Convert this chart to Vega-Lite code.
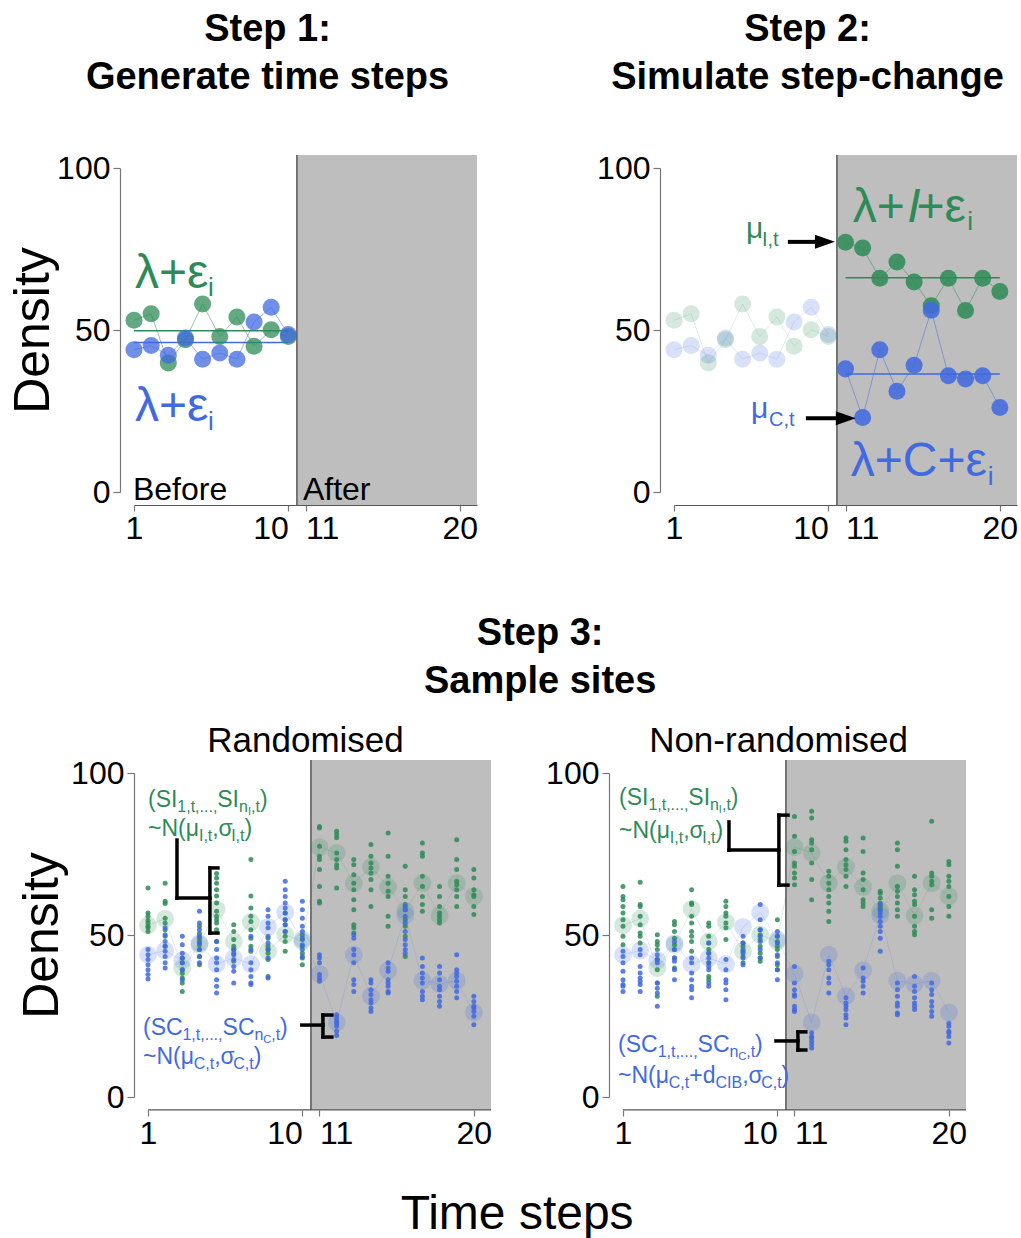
{
"$schema":"https://vega.github.io/schema/vega-lite/v6.json",
"padding":{"left":8,"top":11,"right":0,"bottom":0},
"background":"white",
"config":{"font":"Liberation Sans","view":{"stroke":null},
 "axis":{"grid":false,"labelColor":"black","labelFontSize":32,"titleColor":"black","domainColor":"#777","tickColor":"#777","labelOverlap":false,"labelFlush":false,"zindex":1,"domainWidth":1.2,"tickWidth":1.2},
 "title":{"color":"black","font":"Liberation Sans"}},
"datasets":{
"means":[
{"g":"I","t":1,"v":53},{"g":"I","t":2,"v":55},{"g":"I","t":3,"v":39.8},{"g":"I","t":4,"v":47},{"g":"I","t":5,"v":58},{"g":"I","t":6,"v":48},{"g":"I","t":7,"v":54},{"g":"I","t":8,"v":45},{"g":"I","t":9,"v":50.1},{"g":"I","t":10,"v":48},
{"g":"I","t":11,"v":77.1},{"g":"I","t":12,"v":75.3},{"g":"I","t":13,"v":66},{"g":"I","t":14,"v":71},{"g":"I","t":15,"v":64.8},{"g":"I","t":16,"v":57.5},{"g":"I","t":17,"v":66},{"g":"I","t":18,"v":56},{"g":"I","t":19,"v":66},{"g":"I","t":20,"v":61.9},
{"g":"C","t":1,"v":43.9},{"g":"C","t":2,"v":45.2},{"g":"C","t":3,"v":42.2},{"g":"C","t":4,"v":47.5},{"g":"C","t":5,"v":41},{"g":"C","t":6,"v":42.9},{"g":"C","t":7,"v":41},{"g":"C","t":8,"v":52.5},{"g":"C","t":9,"v":57},{"g":"C","t":10,"v":48.6},
{"g":"C","t":11,"v":38},{"g":"C","t":12,"v":23},{"g":"C","t":13,"v":43.9},{"g":"C","t":14,"v":31.1},{"g":"C","t":15,"v":39.1},{"g":"C","t":16,"v":56.1},{"g":"C","t":17,"v":35.9},{"g":"C","t":18,"v":34.9},{"g":"C","t":19,"v":35.9},{"g":"C","t":20,"v":26.1}],
"r":[
{"g":"I","t":1,"v":64.5},{"g":"I","t":1,"v":56.8},{"g":"I","t":1,"v":55.8},{"g":"I","t":1,"v":54.5},{"g":"I","t":1,"v":53.7},{"g":"I","t":1,"v":52.7},{"g":"I","t":1,"v":52.2},{"g":"I","t":1,"v":51.1},
{"g":"I","t":2,"v":66},{"g":"I","t":2,"v":60.4},{"g":"I","t":2,"v":59.7},{"g":"I","t":2,"v":55.2},{"g":"I","t":2,"v":53.7},{"g":"I","t":2,"v":51.6},{"g":"I","t":2,"v":49.6},{"g":"I","t":2,"v":46.5},
{"g":"I","t":3,"v":42.9},{"g":"I","t":3,"v":41.4},{"g":"I","t":3,"v":39.3},{"g":"I","t":3,"v":38.2},{"g":"I","t":3,"v":36.7},{"g":"I","t":3,"v":35.2},{"g":"I","t":3,"v":32.6},
{"g":"I","t":4,"v":52.7},{"g":"I","t":4,"v":50.5},{"g":"I","t":4,"v":49},{"g":"I","t":4,"v":48},{"g":"I","t":4,"v":47},{"g":"I","t":4,"v":45.5},{"g":"I","t":4,"v":43.4},{"g":"I","t":4,"v":40.8},
{"g":"I","t":5,"v":69},{"g":"I","t":5,"v":67.6},{"g":"I","t":5,"v":66},{"g":"I","t":5,"v":64},{"g":"I","t":5,"v":62},{"g":"I","t":5,"v":59.9},{"g":"I","t":5,"v":57.3},{"g":"I","t":5,"v":55.8},{"g":"I","t":5,"v":54.7},{"g":"I","t":5,"v":53.7},{"g":"I","t":5,"v":51.6},{"g":"I","t":5,"v":48},
{"g":"I","t":6,"v":53.2},{"g":"I","t":6,"v":51.1},{"g":"I","t":6,"v":48.6},{"g":"I","t":6,"v":46.5},{"g":"I","t":6,"v":45.5},{"g":"I","t":6,"v":44.4},{"g":"I","t":6,"v":41.9},
{"g":"I","t":7,"v":73.3},{"g":"I","t":7,"v":62},{"g":"I","t":7,"v":58.3},{"g":"I","t":7,"v":55.8},{"g":"I","t":7,"v":54.2},{"g":"I","t":7,"v":51.6},{"g":"I","t":7,"v":49},{"g":"I","t":7,"v":46.5},{"g":"I","t":7,"v":45},
{"g":"I","t":8,"v":49},{"g":"I","t":8,"v":46.5},{"g":"I","t":8,"v":45.5},{"g":"I","t":8,"v":44.4},{"g":"I","t":8,"v":42.4},{"g":"I","t":8,"v":37.2},
{"g":"I","t":9,"v":56.8},{"g":"I","t":9,"v":54.7},{"g":"I","t":9,"v":53.2},{"g":"I","t":9,"v":51.1},{"g":"I","t":9,"v":49.6},{"g":"I","t":9,"v":48},{"g":"I","t":9,"v":45},
{"g":"I","t":10,"v":50},{"g":"I","t":10,"v":48.6},{"g":"I","t":10,"v":46.5},{"g":"I","t":10,"v":44.4},{"g":"I","t":10,"v":42.9},{"g":"I","t":10,"v":40.8},
{"g":"I","t":11,"v":83.5},{"g":"I","t":11,"v":83},{"g":"I","t":11,"v":77.4},{"g":"I","t":11,"v":74.3},{"g":"I","t":11,"v":73.3},{"g":"I","t":11,"v":70.2},{"g":"I","t":11,"v":65},{"g":"I","t":11,"v":60.4},{"g":"I","t":11,"v":59.9},
{"g":"I","t":12,"v":82},{"g":"I","t":12,"v":81},{"g":"I","t":12,"v":80},{"g":"I","t":12,"v":75.3},{"g":"I","t":12,"v":73.3},{"g":"I","t":12,"v":71.7},{"g":"I","t":12,"v":70.7},{"g":"I","t":12,"v":64.5},
{"g":"I","t":13,"v":73.3},{"g":"I","t":13,"v":71.7},{"g":"I","t":13,"v":68.6},{"g":"I","t":13,"v":66},{"g":"I","t":13,"v":64},{"g":"I","t":13,"v":60.9},{"g":"I","t":13,"v":57.8},{"g":"I","t":13,"v":53.2},{"g":"I","t":13,"v":52.2},{"g":"I","t":13,"v":50.6},
{"g":"I","t":14,"v":77.9},{"g":"I","t":14,"v":74.3},{"g":"I","t":14,"v":72.2},{"g":"I","t":14,"v":70.7},{"g":"I","t":14,"v":69.1},{"g":"I","t":14,"v":67.1},{"g":"I","t":14,"v":64},{"g":"I","t":14,"v":58.8},
{"g":"I","t":15,"v":81.5},{"g":"I","t":15,"v":74.3},{"g":"I","t":15,"v":68.1},{"g":"I","t":15,"v":66},{"g":"I","t":15,"v":63.5},{"g":"I","t":15,"v":61.9},{"g":"I","t":15,"v":55.8},{"g":"I","t":15,"v":52.7},
{"g":"I","t":16,"v":71.2},{"g":"I","t":16,"v":64},{"g":"I","t":16,"v":61.9},{"g":"I","t":16,"v":59.4},{"g":"I","t":16,"v":57.8},{"g":"I","t":16,"v":54.7},{"g":"I","t":16,"v":52.7},{"g":"I","t":16,"v":49.6},{"g":"I","t":16,"v":43.4},
{"g":"I","t":17,"v":78.4},{"g":"I","t":17,"v":75.3},{"g":"I","t":17,"v":74.3},{"g":"I","t":17,"v":68.1},{"g":"I","t":17,"v":65},{"g":"I","t":17,"v":61.9},{"g":"I","t":17,"v":59.4},{"g":"I","t":17,"v":57.3},
{"g":"I","t":18,"v":65},{"g":"I","t":18,"v":61.9},{"g":"I","t":18,"v":58.8},{"g":"I","t":18,"v":56.8},{"g":"I","t":18,"v":55.8},{"g":"I","t":18,"v":54.7},{"g":"I","t":18,"v":53.7},
{"g":"I","t":19,"v":79.4},{"g":"I","t":19,"v":73.3},{"g":"I","t":19,"v":70.2},{"g":"I","t":19,"v":66.6},{"g":"I","t":19,"v":65.5},{"g":"I","t":19,"v":64},{"g":"I","t":19,"v":61.9},{"g":"I","t":19,"v":58.8},
{"g":"I","t":20,"v":70.2},{"g":"I","t":20,"v":67.6},{"g":"I","t":20,"v":64},{"g":"I","t":20,"v":62.4},{"g":"I","t":20,"v":61.9},{"g":"I","t":20,"v":58.8},{"g":"I","t":20,"v":56.3},
{"g":"C","t":1,"v":45.5},{"g":"C","t":1,"v":43.9},{"g":"C","t":1,"v":42.4},{"g":"C","t":1,"v":40.8},{"g":"C","t":1,"v":39.3},{"g":"C","t":1,"v":37.8},{"g":"C","t":1,"v":36.4},
{"g":"C","t":2,"v":52.2},{"g":"C","t":2,"v":50.1},{"g":"C","t":2,"v":48},{"g":"C","t":2,"v":46.5},{"g":"C","t":2,"v":45},{"g":"C","t":2,"v":43.4},{"g":"C","t":2,"v":41.4},{"g":"C","t":2,"v":39.8},
{"g":"C","t":3,"v":49.6},{"g":"C","t":3,"v":47},{"g":"C","t":3,"v":44.4},{"g":"C","t":3,"v":42.9},{"g":"C","t":3,"v":41.4},{"g":"C","t":3,"v":39.3},{"g":"C","t":3,"v":36.2},
{"g":"C","t":4,"v":57.3},{"g":"C","t":4,"v":53.7},{"g":"C","t":4,"v":51.6},{"g":"C","t":4,"v":49.6},{"g":"C","t":4,"v":47.5},{"g":"C","t":4,"v":45.5},{"g":"C","t":4,"v":43.4},{"g":"C","t":4,"v":41.4},
{"g":"C","t":5,"v":48},{"g":"C","t":5,"v":45.5},{"g":"C","t":5,"v":42.9},{"g":"C","t":5,"v":41.4},{"g":"C","t":5,"v":39.3},{"g":"C","t":5,"v":36.2},{"g":"C","t":5,"v":34.2},{"g":"C","t":5,"v":32.1},
{"g":"C","t":6,"v":45.5},{"g":"C","t":6,"v":43.9},{"g":"C","t":6,"v":42.4},{"g":"C","t":6,"v":40.3},{"g":"C","t":6,"v":38.8},{"g":"C","t":6,"v":35.2},
{"g":"C","t":7,"v":49.6},{"g":"C","t":7,"v":45.5},{"g":"C","t":7,"v":41.4},{"g":"C","t":7,"v":39.3},{"g":"C","t":7,"v":37.2},{"g":"C","t":7,"v":35.2},{"g":"C","t":7,"v":34.7},
{"g":"C","t":8,"v":57.8},{"g":"C","t":8,"v":55.8},{"g":"C","t":8,"v":53.7},{"g":"C","t":8,"v":52.2},{"g":"C","t":8,"v":49.6},{"g":"C","t":8,"v":47.5},{"g":"C","t":8,"v":45.5},{"g":"C","t":8,"v":42.9},{"g":"C","t":8,"v":36.7},
{"g":"C","t":9,"v":66.6},{"g":"C","t":9,"v":64},{"g":"C","t":9,"v":61.9},{"g":"C","t":9,"v":59.9},{"g":"C","t":9,"v":58.3},{"g":"C","t":9,"v":56.8},{"g":"C","t":9,"v":54.7},{"g":"C","t":9,"v":53.2},{"g":"C","t":9,"v":51.1},
{"g":"C","t":10,"v":60.4},{"g":"C","t":10,"v":57.8},{"g":"C","t":10,"v":55.2},{"g":"C","t":10,"v":52.7},{"g":"C","t":10,"v":51.1},{"g":"C","t":10,"v":49},{"g":"C","t":10,"v":47},{"g":"C","t":10,"v":45.5},{"g":"C","t":10,"v":43.4},
{"g":"C","t":11,"v":43.9},{"g":"C","t":11,"v":42.9},{"g":"C","t":11,"v":41.4},{"g":"C","t":11,"v":37.8},{"g":"C","t":11,"v":36.7},{"g":"C","t":11,"v":35.7},
{"g":"C","t":12,"v":25.4},{"g":"C","t":12,"v":24.4},{"g":"C","t":12,"v":23.4},{"g":"C","t":12,"v":22.8},{"g":"C","t":12,"v":21.8},{"g":"C","t":12,"v":20.3},{"g":"C","t":12,"v":19},
{"g":"C","t":13,"v":50.1},{"g":"C","t":13,"v":49},{"g":"C","t":13,"v":45.5},{"g":"C","t":13,"v":43.9},{"g":"C","t":13,"v":41.4},{"g":"C","t":13,"v":36.2},{"g":"C","t":13,"v":34.7},{"g":"C","t":13,"v":32.6},
{"g":"C","t":14,"v":36.2},{"g":"C","t":14,"v":35.2},{"g":"C","t":14,"v":33.1},{"g":"C","t":14,"v":31.6},{"g":"C","t":14,"v":30},{"g":"C","t":14,"v":29},{"g":"C","t":14,"v":27.5},{"g":"C","t":14,"v":26.4},
{"g":"C","t":15,"v":41.4},{"g":"C","t":15,"v":39.8},{"g":"C","t":15,"v":38.8},{"g":"C","t":15,"v":36.2},{"g":"C","t":15,"v":35.2},{"g":"C","t":15,"v":34.2},{"g":"C","t":15,"v":32.6},{"g":"C","t":15,"v":32.1},
{"g":"C","t":16,"v":58.8},{"g":"C","t":16,"v":57.8},{"g":"C","t":16,"v":55.8},{"g":"C","t":16,"v":53.7},{"g":"C","t":16,"v":51.1},{"g":"C","t":16,"v":48.6},{"g":"C","t":16,"v":47},{"g":"C","t":16,"v":45.5},{"g":"C","t":16,"v":44.4},
{"g":"C","t":17,"v":42.9},{"g":"C","t":17,"v":40.3},{"g":"C","t":17,"v":38.3},{"g":"C","t":17,"v":36.7},{"g":"C","t":17,"v":35.2},{"g":"C","t":17,"v":32.6},{"g":"C","t":17,"v":31.1},{"g":"C","t":17,"v":30},
{"g":"C","t":18,"v":40.3},{"g":"C","t":18,"v":38.3},{"g":"C","t":18,"v":36.2},{"g":"C","t":18,"v":34.2},{"g":"C","t":18,"v":33.1},{"g":"C","t":18,"v":31.1},{"g":"C","t":18,"v":29.5},{"g":"C","t":18,"v":28},
{"g":"C","t":19,"v":43.9},{"g":"C","t":19,"v":39.3},{"g":"C","t":19,"v":38.3},{"g":"C","t":19,"v":37.2},{"g":"C","t":19,"v":35.7},{"g":"C","t":19,"v":34.2},{"g":"C","t":19,"v":32.6},{"g":"C","t":19,"v":30.6},
{"g":"C","t":20,"v":31.1},{"g":"C","t":20,"v":29.5},{"g":"C","t":20,"v":28},{"g":"C","t":20,"v":27.5},{"g":"C","t":20,"v":26.4},{"g":"C","t":20,"v":24.9},{"g":"C","t":20,"v":22.3}],
"n":[
{"g":"I","t":1,"v":65},{"g":"I","t":1,"v":61.9},{"g":"I","t":1,"v":60.9},{"g":"I","t":1,"v":58.8},{"g":"I","t":1,"v":56.8},{"g":"I","t":1,"v":54.7},{"g":"I","t":1,"v":52.7},{"g":"I","t":1,"v":49.6},{"g":"I","t":1,"v":47},
{"g":"I","t":2,"v":66.3},{"g":"I","t":2,"v":59.4},{"g":"I","t":2,"v":58.8},{"g":"I","t":2,"v":55.8},{"g":"I","t":2,"v":53.2},{"g":"I","t":2,"v":50.6},{"g":"I","t":2,"v":49.6},{"g":"I","t":2,"v":47.5},
{"g":"I","t":3,"v":50.1},{"g":"I","t":3,"v":48},{"g":"I","t":3,"v":47},{"g":"I","t":3,"v":45.5},{"g":"I","t":3,"v":42.4},{"g":"I","t":3,"v":39.3},{"g":"I","t":3,"v":35.2},{"g":"I","t":3,"v":31.1},
{"g":"I","t":4,"v":54.2},{"g":"I","t":4,"v":53.2},{"g":"I","t":4,"v":51.1},{"g":"I","t":4,"v":49},{"g":"I","t":4,"v":47},{"g":"I","t":4,"v":45.5},{"g":"I","t":4,"v":42.9},{"g":"I","t":4,"v":39.8},
{"g":"I","t":5,"v":64},{"g":"I","t":5,"v":59.9},{"g":"I","t":5,"v":59.4},{"g":"I","t":5,"v":55.8},{"g":"I","t":5,"v":53.7},{"g":"I","t":5,"v":51.1},{"g":"I","t":5,"v":49.6},{"g":"I","t":5,"v":48},{"g":"I","t":5,"v":45},
{"g":"I","t":6,"v":53.7},{"g":"I","t":6,"v":52.7},{"g":"I","t":6,"v":49.6},{"g":"I","t":6,"v":47.5},{"g":"I","t":6,"v":45.5},{"g":"I","t":6,"v":44.4},{"g":"I","t":6,"v":41.4},{"g":"I","t":6,"v":37.2},{"g":"I","t":6,"v":36.2},
{"g":"I","t":7,"v":60.4},{"g":"I","t":7,"v":58.8},{"g":"I","t":7,"v":56.8},{"g":"I","t":7,"v":55.8},{"g":"I","t":7,"v":53.7},{"g":"I","t":7,"v":52.2},{"g":"I","t":7,"v":48.6},
{"g":"I","t":8,"v":47.5},{"g":"I","t":8,"v":46.5},{"g":"I","t":8,"v":45},{"g":"I","t":8,"v":43.4},{"g":"I","t":8,"v":41.4},
{"g":"I","t":9,"v":51.6},{"g":"I","t":9,"v":50.1},{"g":"I","t":9,"v":48.6},{"g":"I","t":9,"v":46.5},{"g":"I","t":9,"v":44.4},{"g":"I","t":9,"v":42.9},{"g":"I","t":9,"v":41.9},
{"g":"I","t":10,"v":54.7},{"g":"I","t":10,"v":49.6},{"g":"I","t":10,"v":48},{"g":"I","t":10,"v":46.5},{"g":"I","t":10,"v":45.5},{"g":"I","t":10,"v":43.4},{"g":"I","t":10,"v":40.8},{"g":"I","t":10,"v":39.3},
{"g":"I","t":11,"v":86.6},{"g":"I","t":11,"v":80.5},{"g":"I","t":11,"v":75.8},{"g":"I","t":11,"v":72.2},{"g":"I","t":11,"v":71.2},{"g":"I","t":11,"v":69.1},{"g":"I","t":11,"v":67.6},{"g":"I","t":11,"v":65.5},
{"g":"I","t":12,"v":88.2},{"g":"I","t":12,"v":86.1},{"g":"I","t":12,"v":79.4},{"g":"I","t":12,"v":78.4},{"g":"I","t":12,"v":76.3},{"g":"I","t":12,"v":72.2},{"g":"I","t":12,"v":67.1},{"g":"I","t":12,"v":60.9},
{"g":"I","t":13,"v":69.7},{"g":"I","t":13,"v":68.1},{"g":"I","t":13,"v":66},{"g":"I","t":13,"v":64},{"g":"I","t":13,"v":61.9},{"g":"I","t":13,"v":59.9},{"g":"I","t":13,"v":57.3},{"g":"I","t":13,"v":54.2},
{"g":"I","t":14,"v":79.9},{"g":"I","t":14,"v":78.9},{"g":"I","t":14,"v":76.3},{"g":"I","t":14,"v":73.3},{"g":"I","t":14,"v":71.7},{"g":"I","t":14,"v":70.2},{"g":"I","t":14,"v":68.1},{"g":"I","t":14,"v":65},
{"g":"I","t":15,"v":79.9},{"g":"I","t":15,"v":75.8},{"g":"I","t":15,"v":69.1},{"g":"I","t":15,"v":67.1},{"g":"I","t":15,"v":64},{"g":"I","t":15,"v":60.9},{"g":"I","t":15,"v":59.9},{"g":"I","t":15,"v":58.8},
{"g":"I","t":16,"v":63.5},{"g":"I","t":16,"v":62.9},{"g":"I","t":16,"v":61.4},{"g":"I","t":16,"v":59.9},{"g":"I","t":16,"v":58.8},{"g":"I","t":16,"v":57.8},
{"g":"I","t":17,"v":78.4},{"g":"I","t":17,"v":76.3},{"g":"I","t":17,"v":71.2},{"g":"I","t":17,"v":65},{"g":"I","t":17,"v":63.5},{"g":"I","t":17,"v":61.9},{"g":"I","t":17,"v":59.9},{"g":"I","t":17,"v":57.8},{"g":"I","t":17,"v":55.8},
{"g":"I","t":18,"v":68.1},{"g":"I","t":18,"v":64},{"g":"I","t":18,"v":62.4},{"g":"I","t":18,"v":60.4},{"g":"I","t":18,"v":59.4},{"g":"I","t":18,"v":55.8},{"g":"I","t":18,"v":52.7},{"g":"I","t":18,"v":51.1},{"g":"I","t":18,"v":50.1},
{"g":"I","t":19,"v":85.1},{"g":"I","t":19,"v":69.1},{"g":"I","t":19,"v":68.1},{"g":"I","t":19,"v":66.6},{"g":"I","t":19,"v":65.5},{"g":"I","t":19,"v":57.8},{"g":"I","t":19,"v":55.2},
{"g":"I","t":20,"v":72.7},{"g":"I","t":20,"v":71.7},{"g":"I","t":20,"v":68.1},{"g":"I","t":20,"v":66.6},{"g":"I","t":20,"v":65},{"g":"I","t":20,"v":61.9},{"g":"I","t":20,"v":58.8},{"g":"I","t":20,"v":55.8},
{"g":"C","t":1,"v":45},{"g":"C","t":1,"v":43.4},{"g":"C","t":1,"v":41.4},{"g":"C","t":1,"v":38.8},{"g":"C","t":1,"v":36.2},{"g":"C","t":1,"v":34.7},{"g":"C","t":1,"v":34.2},{"g":"C","t":1,"v":32.6},
{"g":"C","t":2,"v":45.5},{"g":"C","t":2,"v":43.9},{"g":"C","t":2,"v":40.3},{"g":"C","t":2,"v":38.3},{"g":"C","t":2,"v":36.7},{"g":"C","t":2,"v":35.7},{"g":"C","t":2,"v":34.7},{"g":"C","t":2,"v":32.6},
{"g":"C","t":3,"v":43.9},{"g":"C","t":3,"v":42.4},{"g":"C","t":3,"v":41.4},{"g":"C","t":3,"v":35.2},{"g":"C","t":3,"v":33.6},{"g":"C","t":3,"v":32.1},{"g":"C","t":3,"v":28},
{"g":"C","t":4,"v":48},{"g":"C","t":4,"v":45.5},{"g":"C","t":4,"v":42.9},{"g":"C","t":4,"v":41.9},{"g":"C","t":4,"v":39.3},{"g":"C","t":4,"v":36.2},
{"g":"C","t":5,"v":42.9},{"g":"C","t":5,"v":41.4},{"g":"C","t":5,"v":38.3},{"g":"C","t":5,"v":36.2},{"g":"C","t":5,"v":34.2},{"g":"C","t":5,"v":33.1},{"g":"C","t":5,"v":30.6},
{"g":"C","t":6,"v":47.5},{"g":"C","t":6,"v":44.4},{"g":"C","t":6,"v":42.9},{"g":"C","t":6,"v":41.4},{"g":"C","t":6,"v":40.3},{"g":"C","t":6,"v":39.3},{"g":"C","t":6,"v":35.2},{"g":"C","t":6,"v":34.2},
{"g":"C","t":7,"v":42.4},{"g":"C","t":7,"v":39.3},{"g":"C","t":7,"v":36.2},{"g":"C","t":7,"v":35.2},{"g":"C","t":7,"v":33.1},{"g":"C","t":7,"v":30},
{"g":"C","t":8,"v":49.6},{"g":"C","t":8,"v":47.5},{"g":"C","t":8,"v":45.5},{"g":"C","t":8,"v":44.4},{"g":"C","t":8,"v":42.9},{"g":"C","t":8,"v":40.8},
{"g":"C","t":9,"v":59.4},{"g":"C","t":9,"v":54.7},{"g":"C","t":9,"v":51.6},{"g":"C","t":9,"v":49.6},{"g":"C","t":9,"v":48},{"g":"C","t":9,"v":45.5},{"g":"C","t":9,"v":42.9},
{"g":"C","t":10,"v":51.1},{"g":"C","t":10,"v":49.6},{"g":"C","t":10,"v":47.5},{"g":"C","t":10,"v":43.9},{"g":"C","t":10,"v":41.4},{"g":"C","t":10,"v":39.3},{"g":"C","t":10,"v":36.2},
{"g":"C","t":11,"v":40.3},{"g":"C","t":11,"v":35.2},{"g":"C","t":11,"v":33.1},{"g":"C","t":11,"v":31.6},{"g":"C","t":11,"v":31.1},{"g":"C","t":11,"v":28},{"g":"C","t":11,"v":27},{"g":"C","t":11,"v":26.4},
{"g":"C","t":12,"v":19.8},{"g":"C","t":12,"v":18.7},{"g":"C","t":12,"v":18.2},{"g":"C","t":12,"v":17.2},{"g":"C","t":12,"v":16.2},{"g":"C","t":12,"v":15.1},
{"g":"C","t":13,"v":41.9},{"g":"C","t":13,"v":40.8},{"g":"C","t":13,"v":39.3},{"g":"C","t":13,"v":36.7},{"g":"C","t":13,"v":35.2},{"g":"C","t":13,"v":32.1},
{"g":"C","t":14,"v":30.6},{"g":"C","t":14,"v":29},{"g":"C","t":14,"v":28},{"g":"C","t":14,"v":27},{"g":"C","t":14,"v":25.4},{"g":"C","t":14,"v":24.4},{"g":"C","t":14,"v":22.3},
{"g":"C","t":15,"v":39.8},{"g":"C","t":15,"v":36.7},{"g":"C","t":15,"v":35.7},{"g":"C","t":15,"v":34.2},{"g":"C","t":15,"v":32.1},
{"g":"C","t":16,"v":59.4},{"g":"C","t":16,"v":57.8},{"g":"C","t":16,"v":56.8},{"g":"C","t":16,"v":55.8},{"g":"C","t":16,"v":54.2},{"g":"C","t":16,"v":52.7},{"g":"C","t":16,"v":51.1},{"g":"C","t":16,"v":49},{"g":"C","t":16,"v":45},
{"g":"C","t":17,"v":35.2},{"g":"C","t":17,"v":33.1},{"g":"C","t":17,"v":31.1},{"g":"C","t":17,"v":29},{"g":"C","t":17,"v":28},{"g":"C","t":17,"v":25.9},{"g":"C","t":17,"v":25.4},
{"g":"C","t":18,"v":37.2},{"g":"C","t":18,"v":34.2},{"g":"C","t":18,"v":32.6},{"g":"C","t":18,"v":30.6},{"g":"C","t":18,"v":29},{"g":"C","t":18,"v":28},{"g":"C","t":18,"v":27},
{"g":"C","t":19,"v":35.2},{"g":"C","t":19,"v":33.1},{"g":"C","t":19,"v":31.6},{"g":"C","t":19,"v":29.5},{"g":"C","t":19,"v":28},{"g":"C","t":19,"v":26.4},{"g":"C","t":19,"v":24.9},
{"g":"C","t":20,"v":22.8},{"g":"C","t":20,"v":21.8},{"g":"C","t":20,"v":20.3},{"g":"C","t":20,"v":19.8},{"g":"C","t":20,"v":18.7},{"g":"C","t":20,"v":16.7}]
},
"spacing":71,
"vconcat":[
{"hconcat":[
 {"width":343,"height":324,
  "title":{"text":["Step 1:","Generate time steps"],"fontSize":38,"fontWeight":"bold","lineHeight":48,"offset":55,"frame":"group","anchor":"middle","dx":-38},
  "layer":[
   {"data":{"values":[{}]},"mark":{"type":"rect","color":"#bebebe"},
    "encoding":{
     "x":{"datum":10.5,"type":"quantitative","scale":{"domain":[1,21],"nice":false,"zero":false},"axis":{"title":null,"values":[1,10,11,20],"offset":13,"tickSize":6,"labelPadding":2,"domainColor":"#555","labelAlign":{"condition":[{"test":"datum.value == 10","value":"right"},{"test":"datum.value == 11","value":"left"}],"value":"center"}}},
     "x2":{"datum":21},
     "y":{"datum":-4,"type":"quantitative","scale":{"domain":[0,100],"nice":false,"zero":false},"axis":{"title":"Density","titleFontSize":50,"titleFontWeight":"normal","titlePadding":-2,"values":[0,50,100],"offset":14,"tickSize":7,"labelPadding":3}},
     "y2":{"datum":104}}},
   {"data":{"values":[{}]},"mark":{"type":"rule","color":"#555","strokeWidth":1.5},
    "encoding":{"x":{"datum":10.5,"type":"quantitative"},"y":{"datum":-4,"type":"quantitative"},"y2":{"datum":104}}},
   {"data":{"name":"means"},"transform":[{"filter":"datum.t <= 10"}],"mark":{"type":"line","strokeWidth":1,"opacity":0.5},
    "encoding":{"x":{"field":"t","type":"quantitative"},"y":{"field":"v","type":"quantitative"},"color":{"field":"g","type":"nominal","scale":{"domain":["I","C"],"range":["#2E8B57","#4169E1"]},"legend":null}}},
   {"data":{"name":"means"},"transform":[{"filter":"datum.t <= 10"},{"aggregate":[{"op":"mean","field":"v","as":"m"}],"groupby":["g"]}],"mark":{"type":"rule","strokeWidth":1.5},
    "encoding":{"x":{"datum":1,"type":"quantitative"},"x2":{"datum":10},"y":{"field":"m","type":"quantitative"},"color":{"field":"g","type":"nominal","legend":null}}},
   {"data":{"name":"means"},"transform":[{"filter":"datum.t <= 10"}],"mark":{"type":"circle","size":290,"opacity":0.75},
    "encoding":{"x":{"field":"t","type":"quantitative"},"y":{"field":"v","type":"quantitative"},"color":{"field":"g","type":"nominal","legend":null}}},
   {"data":{"values":[{"x":1.06,"y":63.0,"s":"λ+ε","g":"I"},{"x":1.06,"y":21.9,"s":"λ+ε","g":"C"}]},"mark":{"type":"text","align":"left","baseline":"alphabetic","fontSize":48},
    "encoding":{"x":{"field":"x","type":"quantitative"},"y":{"field":"y","type":"quantitative"},"text":{"field":"s"},"color":{"field":"g","type":"nominal","legend":null}}},
   {"data":{"values":[{"x":5.31,"y":60.5,"s":"i","g":"I"},{"x":5.31,"y":19.1,"s":"i","g":"C"}]},"mark":{"type":"text","align":"left","baseline":"alphabetic","fontSize":26},
    "encoding":{"x":{"field":"x","type":"quantitative"},"y":{"field":"y","type":"quantitative"},"text":{"field":"s"},"color":{"field":"g","type":"nominal","legend":null}}},
   {"data":{"values":[{"x":0.94,"y":-2.5,"s":"Before"},{"x":10.85,"y":-2.5,"s":"After"}]},"mark":{"type":"text","align":"left","baseline":"alphabetic","fontSize":32,"color":"black"},
    "encoding":{"x":{"field":"x","type":"quantitative"},"y":{"field":"y","type":"quantitative"},"text":{"field":"s"}}}
  ]},
 {"width":343,"height":324,
  "title":{"text":["Step 2:","Simulate step-change"],"fontSize":38,"fontWeight":"bold","lineHeight":48,"offset":55,"frame":"group","anchor":"middle","dx":-38},
  "layer":[
   {"data":{"values":[{}]},"mark":{"type":"rect","color":"#bebebe"},
    "encoding":{
     "x":{"datum":10.5,"type":"quantitative","scale":{"domain":[1,21],"nice":false,"zero":false},"axis":{"title":null,"values":[1,10,11,20],"offset":13,"tickSize":6,"labelPadding":2,"domainColor":"#555","labelAlign":{"condition":[{"test":"datum.value == 10","value":"right"},{"test":"datum.value == 11","value":"left"}],"value":"center"}}},
     "x2":{"datum":21},
     "y":{"datum":-4,"type":"quantitative","scale":{"domain":[0,100],"nice":false,"zero":false},"axis":{"title":null,"values":[0,50,100],"offset":14,"tickSize":7,"labelPadding":3}},
     "y2":{"datum":104}}},
   {"data":{"values":[{}]},"mark":{"type":"rule","color":"#555","strokeWidth":1.5},
    "encoding":{"x":{"datum":10.5,"type":"quantitative"},"y":{"datum":-4,"type":"quantitative"},"y2":{"datum":104}}},
   {"data":{"name":"means"},"transform":[{"filter":"datum.t <= 10"}],"mark":{"type":"line","strokeWidth":1,"opacity":0.15},
    "encoding":{"x":{"field":"t","type":"quantitative"},"y":{"field":"v","type":"quantitative"},"color":{"field":"g","type":"nominal","scale":{"domain":["I","C"],"range":["#2E8B57","#4169E1"]},"legend":null}}},
   {"data":{"name":"means"},"transform":[{"filter":"datum.t <= 10"}],"mark":{"type":"circle","size":290,"opacity":0.2},
    "encoding":{"x":{"field":"t","type":"quantitative"},"y":{"field":"v","type":"quantitative"},"color":{"field":"g","type":"nominal","legend":null}}},
   {"data":{"name":"means"},"transform":[{"filter":"datum.t >= 11"}],"mark":{"type":"line","strokeWidth":1,"opacity":0.5},
    "encoding":{"x":{"field":"t","type":"quantitative"},"y":{"field":"v","type":"quantitative"},"color":{"field":"g","type":"nominal","legend":null}}},
   {"data":{"name":"means"},"transform":[{"filter":"datum.t >= 11"},{"aggregate":[{"op":"mean","field":"v","as":"m"}],"groupby":["g"]}],"mark":{"type":"rule","strokeWidth":1.5},
    "encoding":{"x":{"datum":11,"type":"quantitative"},"x2":{"datum":20},"y":{"field":"m","type":"quantitative"},"color":{"field":"g","type":"nominal","legend":null}}},
   {"data":{"name":"means"},"transform":[{"filter":"datum.t >= 11"}],"mark":{"type":"circle","size":290,"opacity":0.85},
    "encoding":{"x":{"field":"t","type":"quantitative"},"y":{"field":"v","type":"quantitative"},"color":{"field":"g","type":"nominal","legend":null}}},
   {"data":{"values":[{"x":7.64,"x2":9.34,"y":77.2},{"x":8.69,"x2":10.56,"y":22.8}]},"mark":{"type":"rule","color":"black","strokeWidth":4},
    "encoding":{"x":{"field":"x","type":"quantitative"},"x2":{"field":"x2"},"y":{"field":"y","type":"quantitative"}}},
   {"data":{"values":[{"x":9.80,"y":77.2},{"x":11.02,"y":22.8}]},"mark":{"type":"point","shape":"M1,0L-1,-0.7L-1,0.7Z","filled":true,"color":"black","opacity":1,"size":400},
    "encoding":{"x":{"field":"x","type":"quantitative"},"y":{"field":"y","type":"quantitative"}}},
   {"data":{"values":[{"x":11.43,"y":83.3,"s":"λ+","g":"I"},{"x":15.14,"y":83.3,"s":"+ε","g":"I"},{"x":11.31,"y":4.9,"s":"λ+C+ε","g":"C"}]},"mark":{"type":"text","align":"left","baseline":"alphabetic","fontSize":48},
    "encoding":{"x":{"field":"x","type":"quantitative"},"y":{"field":"y","type":"quantitative"},"text":{"field":"s"},"color":{"field":"g","type":"nominal","legend":null}}},
   {"data":{"values":[{"x":14.6,"y":83.3,"s":"I","g":"I"}]},"mark":{"type":"text","align":"left","baseline":"alphabetic","fontSize":48,"fontStyle":"italic"},
    "encoding":{"x":{"field":"x","type":"quantitative"},"y":{"field":"y","type":"quantitative"},"text":{"field":"s"},"color":{"field":"g","type":"nominal","legend":null}}},
   {"data":{"values":[{"x":18.1,"y":80.9,"s":"i","g":"I"},{"x":19.3,"y":2.2,"s":"i","g":"C"}]},"mark":{"type":"text","align":"left","baseline":"alphabetic","fontSize":26},
    "encoding":{"x":{"field":"x","type":"quantitative"},"y":{"field":"y","type":"quantitative"},"text":{"field":"s"},"color":{"field":"g","type":"nominal","legend":null}}},
   {"data":{"values":[{"x":5.20,"y":78.4,"s":"μ","g":"I"},{"x":5.49,"y":22.8,"s":"μ","g":"C"}]},"mark":{"type":"text","align":"left","baseline":"alphabetic","fontSize":30},
    "encoding":{"x":{"field":"x","type":"quantitative"},"y":{"field":"y","type":"quantitative"},"text":{"field":"s"},"color":{"field":"g","type":"nominal","legend":null}}},
   {"data":{"values":[{"x":6.13,"y":75.9,"s":"I,t","g":"I"},{"x":6.54,"y":20.4,"s":"C,t","g":"C"}]},"mark":{"type":"text","align":"left","baseline":"alphabetic","fontSize":20},
    "encoding":{"x":{"field":"x","type":"quantitative"},"y":{"field":"y","type":"quantitative"},"text":{"field":"s"},"color":{"field":"g","type":"nominal","legend":null}}}
  ]}
 ],"spacing":118},
{"title":{"text":["Step 3:","Sample sites"],"fontSize":38,"fontWeight":"bold","lineHeight":48,"anchor":"middle","dx":48,"offset":23},
 "vconcat":[
 {"title":{"text":"Time steps","orient":"bottom","fontSize":48,"fontWeight":"normal","anchor":"middle","dx":25,"offset":42},
  "spacing":53,
  "hconcat":[
  {"width":357,"height":324,
   "title":{"text":"Randomised","fontSize":35,"fontWeight":"normal","offset":-2,"frame":"group","anchor":"middle","dx":-7},
   "layer":[
    {"data":{"values":[{}]},"mark":{"type":"rect","color":"#bebebe"},
     "encoding":{
      "x":{"datum":10.5,"type":"quantitative","scale":{"domain":[0.184,21],"nice":false,"zero":false},"axis":{"title":null,"values":[1,10,11,20],"offset":13,"tickSize":6,"labelPadding":2,"domain":false,"labelAlign":{"condition":[{"test":"datum.value == 10","value":"right"},{"test":"datum.value == 11","value":"left"}],"value":"center"}}},
      "x2":{"datum":21},
      "y":{"datum":-4,"type":"quantitative","scale":{"domain":[0,100],"nice":false,"zero":false},"axis":{"title":"Density","titleFontSize":50,"titleFontWeight":"normal","titlePadding":3,"values":[0,50,100],"offset":0,"tickSize":7,"labelPadding":3}},
      "y2":{"datum":104}}},
    {"data":{"values":[{}]},"mark":{"type":"rule","color":"#555","strokeWidth":1.5},
     "encoding":{"x":{"datum":10.5,"type":"quantitative"},"y":{"datum":-4,"type":"quantitative"},"y2":{"datum":104}}},
    {"data":{"values":[{}]},"mark":{"type":"rule","color":"#555","strokeWidth":1.2},
     "encoding":{"x":{"datum":1,"type":"quantitative"},"x2":{"datum":21},"y":{"datum":-4,"type":"quantitative"}}},
    {"data":{"name":"means"},"mark":{"type":"line","strokeWidth":1,"opacity":0.15},
     "encoding":{"x":{"field":"t","type":"quantitative"},"y":{"field":"v","type":"quantitative"},"color":{"field":"g","type":"nominal","scale":{"domain":["I","C"],"range":["#2E8B57","#4169E1"]},"legend":null}}},
    {"data":{"name":"means"},"mark":{"type":"circle","size":320,"opacity":0.2},
     "encoding":{"x":{"field":"t","type":"quantitative"},"y":{"field":"v","type":"quantitative"},"color":{"field":"g","type":"nominal","legend":null}}},
    {"data":{"name":"r"},"mark":{"type":"circle","size":25,"opacity":0.85},
     "encoding":{"x":{"field":"t","type":"quantitative"},"y":{"field":"v","type":"quantitative"},"color":{"field":"g","type":"nominal","legend":null}}},
    {"data":{"values":[{"x":2.69,"y":79.3,"x2":2.69,"y2":61.4},{"x":2.69,"y":61.4,"x2":4.61,"y2":61.4},{"x":4.61,"y":70.7,"x2":4.61,"y2":50.6},{"x":4.61,"y":70.7,"x2":5.08,"y2":70.7},{"x":4.61,"y":50.6,"x2":5.08,"y2":50.6},{"x":9.97,"y":22.2,"x2":11.2,"y2":22.2},{"x":11.2,"y":25.3,"x2":11.2,"y2":18.5},{"x":11.2,"y":25.3,"x2":11.72,"y2":25.3},{"x":11.2,"y":18.5,"x2":11.72,"y2":18.5}]},
     "mark":{"type":"rule","color":"black","strokeWidth":3.5,"strokeCap":"square"},
     "encoding":{"x":{"field":"x","type":"quantitative"},"x2":{"field":"x2"},"y":{"field":"y","type":"quantitative"},"y2":{"field":"y2"}}},
    {"data":{"values":[{"x":1.0,"y":89.5,"s":"(SI","g":"I"},{"x":5.04,"y":89.5,"s":"SI","g":"I"},{"x":7.53,"y":89.5,"s":")","g":"I"},{"x":1.0,"y":80.6,"s":"~N(μ","g":"I"},{"x":4.74,"y":80.6,"s":",σ","g":"I"},{"x":6.62,"y":80.6,"s":")","g":"I"},
      {"x":0.71,"y":19.1,"s":"(SC","g":"C"},{"x":5.35,"y":19.1,"s":"SC","g":"C"},{"x":8.70,"y":19.1,"s":")","g":"C"},{"x":0.71,"y":10.2,"s":"~N(μ","g":"C"},{"x":4.86,"y":10.2,"s":",σ","g":"C"},{"x":7.16,"y":10.2,"s":")","g":"C"}]},
     "mark":{"type":"text","align":"left","baseline":"alphabetic","fontSize":23},
     "encoding":{"x":{"field":"x","type":"quantitative"},"y":{"field":"y","type":"quantitative"},"text":{"field":"s"},"color":{"field":"g","type":"nominal","legend":null}}},
    {"data":{"values":[{"x":2.71,"y":88.0,"s":"1,t,...,","g":"I"},{"x":6.31,"y":88.0,"s":"n","g":"I"},{"x":7.01,"y":88.0,"s":",t","g":"I"},{"x":3.97,"y":79.0,"s":"I,t","g":"I"},{"x":5.85,"y":79.0,"s":"I,t","g":"I"},
      {"x":3.01,"y":17.6,"s":"1,t,...,","g":"C"},{"x":7.21,"y":17.6,"s":"n","g":"C"},{"x":8.19,"y":17.6,"s":",t","g":"C"},{"x":3.67,"y":8.6,"s":"C,t","g":"C"},{"x":5.97,"y":8.6,"s":"C,t","g":"C"}]},
     "mark":{"type":"text","align":"left","baseline":"alphabetic","fontSize":16},
     "encoding":{"x":{"field":"x","type":"quantitative"},"y":{"field":"y","type":"quantitative"},"text":{"field":"s"},"color":{"field":"g","type":"nominal","legend":null}}},
    {"data":{"values":[{"x":6.83,"y":87.0,"s":"I","g":"I"},{"x":7.72,"y":16.7,"s":"C","g":"C"}]},
     "mark":{"type":"text","align":"left","baseline":"alphabetic","fontSize":11},
     "encoding":{"x":{"field":"x","type":"quantitative"},"y":{"field":"y","type":"quantitative"},"text":{"field":"s"},"color":{"field":"g","type":"nominal","legend":null}}}
   ]},
  {"width":357,"height":324,
   "title":{"text":"Non-randomised","fontSize":35,"fontWeight":"normal","offset":-2,"frame":"group","anchor":"middle","dx":-9},
   "layer":[
    {"data":{"values":[{}]},"mark":{"type":"rect","color":"#bebebe"},
     "encoding":{
      "x":{"datum":10.5,"type":"quantitative","scale":{"domain":[0.184,21],"nice":false,"zero":false},"axis":{"title":null,"values":[1,10,11,20],"offset":13,"tickSize":6,"labelPadding":2,"domain":false,"labelAlign":{"condition":[{"test":"datum.value == 10","value":"right"},{"test":"datum.value == 11","value":"left"}],"value":"center"}}},
      "x2":{"datum":21},
      "y":{"datum":-4,"type":"quantitative","scale":{"domain":[0,100],"nice":false,"zero":false},"axis":{"title":null,"values":[0,50,100],"offset":0,"tickSize":7,"labelPadding":3}},
      "y2":{"datum":104}}},
    {"data":{"values":[{}]},"mark":{"type":"rule","color":"#555","strokeWidth":1.5},
     "encoding":{"x":{"datum":10.5,"type":"quantitative"},"y":{"datum":-4,"type":"quantitative"},"y2":{"datum":104}}},
    {"data":{"values":[{}]},"mark":{"type":"rule","color":"#555","strokeWidth":1.2},
     "encoding":{"x":{"datum":1,"type":"quantitative"},"x2":{"datum":21},"y":{"datum":-4,"type":"quantitative"}}},
    {"data":{"name":"means"},"mark":{"type":"line","strokeWidth":1,"opacity":0.15},
     "encoding":{"x":{"field":"t","type":"quantitative"},"y":{"field":"v","type":"quantitative"},"color":{"field":"g","type":"nominal","scale":{"domain":["I","C"],"range":["#2E8B57","#4169E1"]},"legend":null}}},
    {"data":{"name":"means"},"mark":{"type":"circle","size":320,"opacity":0.2},
     "encoding":{"x":{"field":"t","type":"quantitative"},"y":{"field":"v","type":"quantitative"},"color":{"field":"g","type":"nominal","legend":null}}},
    {"data":{"name":"n"},"mark":{"type":"circle","size":25,"opacity":0.85},
     "encoding":{"x":{"field":"t","type":"quantitative"},"y":{"field":"v","type":"quantitative"},"color":{"field":"g","type":"nominal","legend":null}}},
    {"data":{"values":[{"x":7.18,"y":84.9,"x2":7.18,"y2":76.2},{"x":7.18,"y":76.2,"x2":10.09,"y2":76.2},{"x":10.09,"y":87.0,"x2":10.09,"y2":65.4},{"x":10.09,"y":87.0,"x2":10.62,"y2":87.0},{"x":10.09,"y":65.4,"x2":10.62,"y2":65.4},{"x":9.92,"y":17.3,"x2":11.2,"y2":17.3},{"x":11.2,"y":20.1,"x2":11.2,"y2":14.5},{"x":11.2,"y":20.1,"x2":11.66,"y2":20.1},{"x":11.2,"y":14.5,"x2":11.66,"y2":14.5}]},
     "mark":{"type":"rule","color":"black","strokeWidth":3.5,"strokeCap":"square"},
     "encoding":{"x":{"field":"x","type":"quantitative"},"x2":{"field":"x2"},"y":{"field":"y","type":"quantitative"},"y2":{"field":"y2"}}},
    {"data":{"values":[{"x":0.77,"y":90.1,"s":"(SI","g":"I"},{"x":4.81,"y":90.1,"s":"SI","g":"I"},{"x":7.29,"y":90.1,"s":")","g":"I"},{"x":0.77,"y":79.9,"s":"~N(μ","g":"I"},{"x":4.51,"y":79.9,"s":",σ","g":"I"},{"x":6.39,"y":79.9,"s":")","g":"I"},
      {"x":0.71,"y":13.9,"s":"(SC","g":"C"},{"x":5.35,"y":13.9,"s":"SC","g":"C"},{"x":8.70,"y":13.9,"s":")","g":"C"},{"x":0.71,"y":4.3,"s":"~N(μ","g":"C"},{"x":4.86,"y":4.3,"s":"+d","g":"C"},{"x":7.95,"y":4.3,"s":",σ","g":"C"},{"x":10.24,"y":4.3,"s":")","g":"C"}]},
     "mark":{"type":"text","align":"left","baseline":"alphabetic","fontSize":23},
     "encoding":{"x":{"field":"x","type":"quantitative"},"y":{"field":"y","type":"quantitative"},"text":{"field":"s"},"color":{"field":"g","type":"nominal","legend":null}}},
    {"data":{"values":[{"x":2.48,"y":88.6,"s":"1,t,...,","g":"I"},{"x":6.08,"y":88.6,"s":"n","g":"I"},{"x":6.78,"y":88.6,"s":",t","g":"I"},{"x":3.73,"y":78.4,"s":"I,t","g":"I"},{"x":5.62,"y":78.4,"s":"I,t","g":"I"},
      {"x":3.02,"y":12.3,"s":"1,t,...,","g":"C"},{"x":7.21,"y":12.3,"s":"n","g":"C"},{"x":8.19,"y":12.3,"s":",t","g":"C"},{"x":3.67,"y":2.8,"s":"C,t","g":"C"},{"x":6.39,"y":2.8,"s":"CIB","g":"C"},{"x":9.06,"y":2.8,"s":"C,t","g":"C"}]},
     "mark":{"type":"text","align":"left","baseline":"alphabetic","fontSize":16},
     "encoding":{"x":{"field":"x","type":"quantitative"},"y":{"field":"y","type":"quantitative"},"text":{"field":"s"},"color":{"field":"g","type":"nominal","legend":null}}},
    {"data":{"values":[{"x":6.59,"y":87.7,"s":"I","g":"I"},{"x":7.72,"y":11.4,"s":"C","g":"C"}]},
     "mark":{"type":"text","align":"left","baseline":"alphabetic","fontSize":11},
     "encoding":{"x":{"field":"x","type":"quantitative"},"y":{"field":"y","type":"quantitative"},"text":{"field":"s"},"color":{"field":"g","type":"nominal","legend":null}}}
   ]}
  ]}
 ]}
]
}
